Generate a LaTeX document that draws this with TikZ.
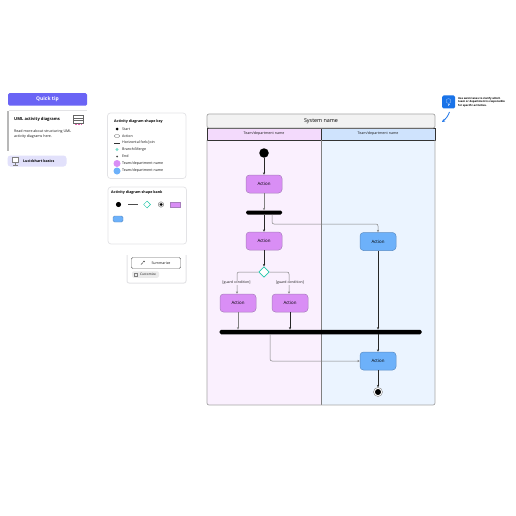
\documentclass[tikz,border=0pt]{standalone}
\usepackage{fontspec}
\setmainfont{Open Sans}
\usetikzlibrary{arrows.meta,shapes.geometric,calc}
\definecolor{purp}{HTML}{D98EF5}
\definecolor{purpline}{HTML}{A87FBD}
\definecolor{blu}{HTML}{6DB1FA}
\definecolor{bluline}{HTML}{5A8CC4}
\definecolor{lanep}{HTML}{FAF0FE}
\definecolor{laneb}{HTML}{EBF4FF}
\definecolor{headp}{HTML}{F3DAFC}
\definecolor{headb}{HTML}{CFE3FD}
\definecolor{tipc}{HTML}{6A64F5}
\definecolor{chip}{HTML}{E2E1FB}
\definecolor{teal}{HTML}{22C7A9}
\definecolor{cardl}{HTML}{E3E3E6}
\definecolor{glow}{HTML}{1A73E8}
\tikzset{
  x=1pt,y=-1pt,
  txt/.style={font=\fontsize{3.6}{4.4}\selectfont,inner sep=0pt,text=black!90},
  bold/.style={font=\fontsize{3.6}{4.4}\selectfont\bfseries,inner sep=0pt,text=black},
  card/.style={draw=cardl,line width=.7pt,fill=white,rounded corners=3pt},
  act/.style={rounded corners=3.5pt,minimum width=36pt,minimum height=18pt,inner sep=0pt,line width=.5pt,font=\fontsize{4.4}{5}\selectfont},
  actp/.style={act,fill=purp,draw=purpline},
  actb/.style={act,fill=blu,draw=bluline},
  flow/.style={draw=black!85,line width=.6pt,rounded corners=2pt,-{Stealth[length=2.4pt,width=2.2pt]}},
  flowl/.style={draw=black!50,line width=.5pt,rounded corners=2pt,-{Stealth[length=2.4pt,width=2.2pt]}},
  barn/.style={fill=black,rounded corners=1.5pt,inner sep=0pt},
  dot/.style={circle,fill=black,inner sep=0pt},
  diam/.style={diamond,draw=teal,fill=white,line width=.7pt,inner sep=0pt,minimum width=10.5pt,minimum height=10.5pt},
  guard/.style={txt,font=\fontsize{3.5}{4}\selectfont}
}
\begin{document}
\begin{tikzpicture}
\useasboundingbox (0,0) rectangle (516,516);
\fill[white] (0,0) rectangle (516,516);

% quick tip panel
\node[fill=tipc,rounded corners=1.5pt,minimum width=79pt,minimum height=12.5pt,inner sep=0pt,text=white,font=\fontsize{5}{6}\selectfont\bfseries] (tip) at (47.5,99.5) {Quick tip};
\draw[cardl,line width=.4pt] (9,110) -- (87,110);
\draw[black!28,line width=1.3pt] (8,111) -- (8,151);
\node[bold,anchor=west,font=\fontsize{4.1}{5}\selectfont\bfseries] (tiptitle) at (14,119) {UML activity diagrams};
\node[txt,anchor=north west,align=left] (tiptext) at (14,130) {Read more about structuring UML\\activity diagrams here.};
\draw[black!60,line width=.35pt] (73,115.5) rectangle (83,123);
\draw[black!60,line width=.35pt] (73,118) -- (83,118) (73,120.5) -- (83,120.5);
\draw[purp!70!red,line width=.4pt,densely dotted] (75,124.5) -- (81,124.5);
\node[fill=chip,rounded corners=3pt,minimum width=59pt,minimum height=11pt,inner sep=0pt] (chipn) at (37,161) {};
\node[bold,anchor=west] (chipt) at (23,161) {Lucidchart basics};
\draw[black!50,fill=white,line width=.35pt] (12,157) rectangle (18.5,162.5);
\draw[black!50,line width=.4pt] (15.2,162.5) -- (15.2,164.5) (13,164.8) -- (17.5,164.8);

% key
\draw[card] (107.5,113) rectangle (186,178.5);
\node[bold,anchor=west] (keyt) at (114,121.5) {Activity diagram shape key};
\node[dot,minimum size=3pt] (k1) at (117,129) {};
\node[txt,anchor=west] at (122,129) {Start};
\node[draw=black!70,rounded corners=.8pt,line width=.3pt,minimum width=5pt,minimum height=2.5pt,inner sep=0pt] (k2) at (117,136) {};
\node[txt,anchor=west] at (122,136) {Action};
\node[fill=black!80,minimum width=5.5pt,minimum height=1pt,inner sep=0pt] (k3) at (117,143) {};
\node[txt,anchor=west] at (122,143) {Horizontal fork/join};
\node[diamond,fill=teal!60,inner sep=0pt,minimum size=3.2pt] (k4) at (117,149.5) {};
\node[txt,anchor=west] at (122,149.5) {Branch/Merge};
\node[dot,fill=black!70,minimum size=2pt] (k5) at (117,156.5) {};
\node[txt,anchor=west] at (122,156.5) {End};
\node[circle,fill=purp,minimum size=7pt,inner sep=0pt] (k6) at (117,163.5) {};
\node[txt,anchor=west] at (122,163.5) {Team/department name};
\node[circle,fill=blu,minimum size=7pt,inner sep=0pt] (k7) at (117,171) {};
\node[txt,anchor=west] at (122,171) {Team/department name};

% bank
\draw[card] (108,187) rectangle (186.5,244);
\node[bold,anchor=west] (bankt) at (111,192.5) {Activity diagram shape bank};
\node[dot,minimum size=5.2pt] (b1) at (118.5,204.5) {};
\fill[black!70] (127.5,204) rectangle (137.5,205.4);
\node[diamond,draw=teal,fill=white,line width=.5pt,inner sep=0pt,minimum size=7pt] (b3) at (147,204.5) {};
\node[circle,draw=black!50,fill=black!10,line width=.4pt,minimum size=5.5pt,inner sep=0pt] (b4) at (161,204.5) {};
\node[dot,minimum size=3pt] at (161,204.5) {};
\node[fill=purp,draw=purpline,line width=.4pt,minimum width=10pt,minimum height=5.5pt,inner sep=0pt] (b5) at (175,204.5) {};
\node[fill=blu,draw=bluline,line width=.4pt,rounded corners=1.5pt,minimum width=10pt,minimum height=6pt,inner sep=0pt] (b6) at (118,219) {};

% summarize card
\draw[cardl,line width=1pt,fill=white,rounded corners=2pt] (127,255) -- (127,283) -- (186,283) -- (186,255);
\node[draw=black!60,fill=white,rounded corners=1.5pt,line width=.4pt,minimum width=49.5pt,minimum height=11pt,inner sep=0pt] (sumb) at (156,263) {};
\node[txt] (sumt) at (161,263) {Summarize};
\draw[black!70,line width=.4pt] (141,264.5) -- (143,262.5);
\fill[black!70] (144,261.5) circle (.8pt);
\node[fill=black!8,rounded corners=2pt,minimum width=27pt,minimum height=6.5pt,inner sep=0pt] (cust) at (145.5,274.5) {};
\node[txt,anchor=west,font=\fontsize{3.2}{4}\selectfont] at (140,274.5) {Customize};
\draw[black!50,line width=.3pt] (134.5,273.2) rectangle (136.8,275.8);

% swimlanes
\fill[lanep] (207,140) rectangle (321,405);
\fill[laneb] (321,140) rectangle (435,405);
\fill[headp] (207,128) rectangle (321,140);
\fill[headb] (321,128) rectangle (435,140);
\draw[black!80,line width=.5pt] (207,128) rectangle (321,140);
\draw[black!80,line width=.5pt] (321,128) rectangle (435,140);
\draw[black!50,line width=.6pt] (321,140) -- (321,405);
\draw[black!35,line width=.7pt,rounded corners=2pt,fill=black!5] (207,128) -- (207,114) -- (435,114) -- (435,128) -- cycle;
\draw[black!35,line width=.7pt,rounded corners=2pt] (207,140) -- (207,405) -- (435,405) -- (435,140);
\node[font=\fontsize{5.4}{6}\selectfont] (sys) at (321,121) {System name};
\node[txt] (h1) at (264,134) {Team/department name};
\node[txt] (h2) at (378,134) {Team/department name};

% flow nodes
\node[dot,minimum size=9.5pt] (start) at (264,153) {};
\node[actp] (a1) at (264,184) {Action};
\node[barn,minimum width=36pt,minimum height=4pt] (fork) at (264,212.5) {};
\node[actp] (a2) at (264,241) {Action};
\node[diam] (d) at (264,272) {};
\node[actp] (a3) at (238,303) {Action};
\node[actp] (a4) at (290,303) {Action};
\node[barn,minimum width=202pt,minimum height=4.5pt] (join) at (320.5,332) {};
\node[actb] (b1a) at (378,241.5) {Action};
\node[actb] (b2a) at (378,361) {Action};
\node[circle,draw=black!50,fill=white,line width=.4pt,minimum size=9pt,inner sep=0pt] (endo) at (378,392) {};
\node[dot,minimum size=6pt] (endi) at (378,392) {};

\draw[flow] (start) -- (a1);
\draw[flowl] (a1) -- (fork);
\draw[flow] (fork) -- (a2);
\draw[flow] (a2) -- (d);
\draw[flowl] (d.west) -| (a3.north -| 237,0);
\draw[flowl] (d.east) -| (a4.north -| 289,0);
\draw[flowl] (a3.south) -- (a3.south |- join.north);
\draw[flow] (a4.south) -- (a4.south |- join.north);
\draw[flowl] (fork.south -| 272,0) |- (378,224) -- (b1a.north);
\draw[flow] (b1a.south) -- (b1a.south |- join.north);
\draw[flow] (b2a.north |- join.south) -- (b2a.north);
\draw[flowl] (join.south -| 270,0) |- (b2a.west);
\draw[flow] (b2a.south) -- (endo.north);

\node[guard,fill=lanep] (g1) at (236.5,283) {[guard condition]};
\node[guard,fill=lanep] (g2) at (290,283) {[guard condition]};

% note
\node[fill=glow,rounded corners=1.5pt,minimum size=13pt,inner sep=0pt] (note) at (448.5,102) {};
\draw[white!60!glow,line width=.3pt] (448.5,101) circle (2.4pt);
\draw[white!60!glow,line width=.3pt] (447.5,104) -- (449.5,104) (447.8,105.2) -- (449.2,105.2);
\node[anchor=west,align=left,inner sep=0pt,font=\fontsize{2.7}{3.3}\selectfont\bfseries] (notet) at (458,102) {Use swim lanes to clarify which\\team or department is responsible\\for specific activities.};
\coordinate (notearrow) at (449.5,112);
\coordinate (notetip) at (442,122);
\draw[glow,line width=.8pt,-{Stealth[length=3pt,width=3pt]}] (notearrow) to[bend left=15] (notetip);
\end{tikzpicture}
\end{document}
